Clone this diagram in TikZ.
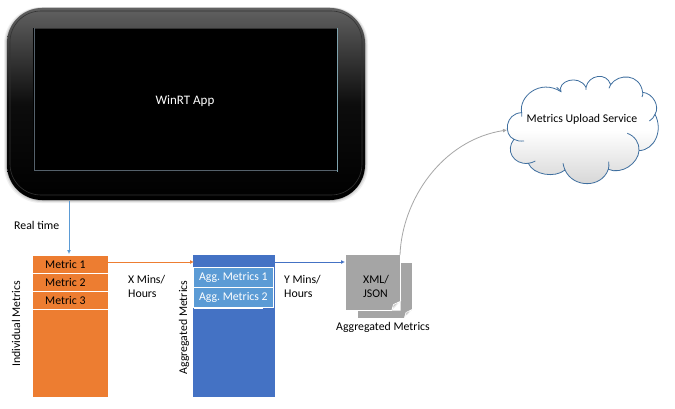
\documentclass[tikz,border=0pt]{standalone}
\usepackage{fontspec}
\setmainfont{Carlito}
\frenchspacing
\usetikzlibrary{arrows.meta,calc}
\definecolor{cOrange}{HTML}{ED7D31}
\definecolor{cBlue}{HTML}{4472C4}
\definecolor{cLight}{HTML}{5B9BD5}
\definecolor{cGray}{HTML}{A5A5A5}
\definecolor{cLine}{HTML}{3F6F9F}
\definecolor{cScreenL}{HTML}{55616B}
\definecolor{cScreenR}{HTML}{7FA3AE}
\tikzset{
  label text/.style={font=\fontsize{11.8}{13}\selectfont,text=black,inner sep=0pt},
  column box/.style={draw=none,inner sep=0pt,minimum width=#1,anchor=north west},
  metric row/.style={draw=none,fill=cOrange,minimum width=74.5pt,minimum height=18pt,inner sep=0pt,anchor=north west},
  agg row/.style={draw=white,line width=.8pt,fill=cLight,minimum width=80pt,minimum height=20pt,inner sep=0pt,anchor=north west,text=white,font=\fontsize{11.8}{13}\selectfont},
  doc sheet/.style={fill=cGray,draw=none,inner sep=0pt,anchor=north west},
  link/.style={line width=.8pt,-{Latex[length=4pt,width=4pt]}},
}
\begin{document}
\begin{tikzpicture}[x=1pt,y=-1pt]
\useasboundingbox (0,0) rectangle (675,409);
\fill[white] (0,0) rectangle (675,409);
% tablet shadow
\foreach \o/\c in {3/6,2/14,1/28}{
  \fill[black!\c,rounded corners=37pt] (7-\o,8-\o*.3) rectangle (365+\o,200+\o);
}
\node[draw=none,inner sep=0pt,minimum width=358pt,minimum height=192pt,anchor=north west] (tablet) at (7,8) {};
\shade[top color=black!62,bottom color=black,middle color=black!95,rounded corners=35pt] (7,8) rectangle (365,200);
\draw[black!80,line width=.6pt,rounded corners=31pt] (10,11) rectangle (362,195);
\node[fill=black,draw=none,inner sep=0pt,minimum width=304pt,minimum height=143pt,anchor=north west] (screen) at (33,28) {};
\draw[black!80,line width=.6pt] (33.5,28) -- (337,28);
\draw[cScreenL,line width=.8pt] (34,28.5) -- (34,170.5) -- (337,170.5);
\draw[cScreenR,line width=.9pt] (337,28) -- (337,172);
\node[text=white,font=\fontsize{13}{15}\selectfont,inner sep=0pt] (app) at (185,101) {WinRT App};
% columns
\node[column box=74.5pt,fill=cOrange,minimum height=141pt] (individual) at (33,256) {};
\node[column box=82pt,fill=cBlue,minimum height=142pt] (aggregated) at (193,255) {};
% metrics
\node[metric row] (m1) at (33,255.5) {};
\node[metric row] (m2) at (33,273.5) {};
\node[metric row] (m3) at (33,291.5) {};
\draw[white,line width=.8pt] (33,273) -- (107.5,273) (33,291) -- (107.5,291) (33,309) -- (107.5,309);
\node[label text,anchor=west] (t1) at (45,264) {Metric 1};
\node[label text,anchor=west] (t2) at (45,282) {Metric 2};
\node[label text,anchor=west] (t3) at (45,300) {Metric 3};
% aggregated rows
\draw[white,line width=.8pt] (194.5,300) -- (194.5,308.4) -- (262.5,308.4) -- (262.5,300);
\node[agg row] (a1) at (193,266.7) {Agg. Metrics 1};
\node[agg row] (a2) at (193,286.7) {Agg. Metrics 2};
% rotated labels
\node[label text,rotate=90] (li) at (16,324) {Individual Metrics};
\node[label text,rotate=90] (la) at (184,327.5) {Aggregated Metrics};
% free labels
\node[label text,anchor=west] (rt) at (14,225) {Real time};
\node[label text,anchor=west,align=left] (xm) at (128,286) {X Mins/\\[1pt]Hours};
\node[label text,anchor=west,align=left] (ym) at (284,286) {Y Mins/\\[1pt]Hours};
% documents
\node[doc sheet,minimum width=54pt,minimum height=55pt] (back) at (358,263) {};
\fill[white] (404,318.5) -- (412.5,309) -- (412.5,319) -- cycle;
\fill[cGray!60,draw=white,line width=.6pt] (404.5,317.5) -- (406,312.5) -- (412,309.5) -- cycle;
\node[doc sheet,minimum width=54pt,minimum height=55pt] (doc) at (346,255) {};
\fill[white] (391.5,310.5) -- (400.5,301) -- (400.5,310.5) -- cycle;
\fill[cGray!60,draw=white,line width=.6pt] (392,309.5) -- (393.5,304.5) -- (400,301.5) -- cycle;
\draw[white,line width=.7pt] (346,310.5) -- (392,310.5) (400.5,255) -- (400.5,301);
\node[label text,anchor=west,align=left] (xml) at (363,286.5) {XML/\\[1pt]JSON};
\node[label text] (ag) at (383,327) {Aggregated Metrics};
% cloud
\begin{scope}[shift={(490,60)},x=.3333pt,y=-.3333pt]
\shade[top color=white,bottom color=black!17,middle color=white,draw=cLine,line width=.8pt]
 (95,158) .. controls (85,110) and (150,55) .. (213,95)
 .. controls (200,65) and (265,40) .. (288,82)
 .. controls (295,45) and (350,35) .. (362,74)
 .. controls (385,40) and (450,40) .. (458,97)
 .. controls (490,100) and (510,140) .. (495,163)
 .. controls (520,210) and (495,270) .. (447,272)
 .. controls (445,310) and (395,345) .. (355,328)
 .. controls (335,385) and (250,385) .. (225,330)
 .. controls (195,355) and (130,345) .. (115,310)
 .. controls (70,315) and (45,270) .. (72,238)
 .. controls (40,225) and (45,160) .. (95,158) -- cycle;
\draw[cLine,line width=.8pt]
 (72,238) .. controls (80,243) and (90,244) .. (102,243)
 (115,310) .. controls (122,309) and (130,307) .. (136,303)
 (225,330) .. controls (222,322) and (220,316) .. (219,310)
 (355,328) .. controls (357,322) and (357,316) .. (356,305)
 (447,272) .. controls (449,250) and (435,228) .. (412,220)
 (495,163) .. controls (492,172) and (486,178) .. (478,183)
 (458,97) .. controls (459,103) and (458,107) .. (456,111)
 (362,74) .. controls (360,78) and (358,82) .. (357,85)
 (288,82) .. controls (289,84) and (289,86) .. (288,90)
 (213,95) .. controls (209,90) and (205,85) .. (200,82)
 (95,158) .. controls (96,162) and (96,165) .. (95,170);
\end{scope}
\coordinate (cloudin) at (507,130);
\node[label text] (cl) at (582,119) {Metrics Upload Service};
% connectors
\coordinate (docTop) at (400,255);
\draw[link,draw=cLight] (69,200.5) -- (69,254);
\draw[link,draw=cOrange] ($(individual.north east)+(0,6)$) -- ($(aggregated.north west)+(1,7)$);
\draw[link,draw=cBlue] ($(aggregated.north east)+(0,7)$) -- ($(doc.north west)+(-1,7)$);
\draw[link,draw=black!35] (docTop) .. controls (402,200) and (442,140) .. (cloudin);
\end{tikzpicture}
\end{document}
